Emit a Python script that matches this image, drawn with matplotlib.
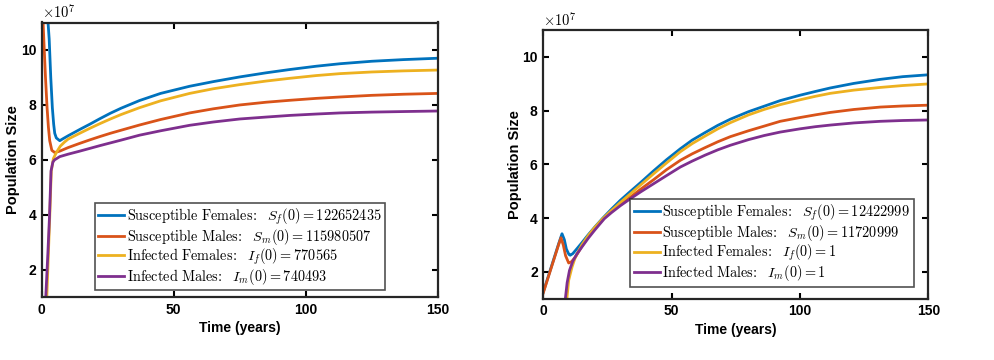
import numpy as np
import matplotlib
matplotlib.use("Agg")
import matplotlib.pyplot as plt

plt.rcParams['font.family'] = ['Liberation Sans', 'DejaVu Sans']
plt.rcParams['mathtext.fontset'] = 'cm'

# values, population in units of 1e7
# left panel: equilibrium initial conditions
t_sf_a = [0, 1, 2, 2.8, 3.4, 4.0, 4.5, 4.9, 5.5, 6.8, 8, 10, 12.5, 15, 18.2, 22, 26, 30, 37, 45,
          56, 65, 75, 85, 94, 104, 113, 125, 137, 150]
sf_a = [12.27, 12.1, 11.5, 10.4, 9.0, 7.9, 7.3, 6.97, 6.8, 6.70, 6.77, 6.88, 7.01, 7.14, 7.3, 7.5,
        7.7, 7.88, 8.16, 8.42, 8.68, 8.85, 9.02, 9.17, 9.29, 9.41, 9.5, 9.59, 9.65, 9.70]
t_sm_a = [0, 0.5, 0.8, 1.4, 2.0, 2.5, 3.0, 3.8, 4.9, 6.8, 10, 14, 18.2, 22, 26, 30, 37, 45, 56,
          65, 75, 85, 94, 104, 113, 125, 137, 150]
sm_a = [11.6, 11.0, 10.3, 9.0, 7.9, 7.2, 6.7, 6.35, 6.27, 6.32, 6.45, 6.59, 6.73, 6.85, 6.97, 7.08,
        7.27, 7.47, 7.71, 7.86, 8.0, 8.1, 8.17, 8.24, 8.29, 8.35, 8.39, 8.42]
t_if_a = [0, 1.9, 2.5, 3.0, 3.6, 4.4, 5.4, 7, 8.6, 10, 12.5, 15, 18.2, 22, 26, 30, 37, 45, 56,
          65, 75, 85, 94, 104, 113, 125, 137, 150]
if_a = [0.077, 1.0, 2.6, 3.9, 5.6, 6.05, 6.25, 6.5, 6.65, 6.76, 6.88, 7.0, 7.15, 7.32, 7.49, 7.65,
        7.9, 8.15, 8.42, 8.59, 8.74, 8.87, 8.97, 9.07, 9.14, 9.2, 9.24, 9.27]
t_im_a = [0, 1.5, 2.3, 2.9, 3.5, 4.2, 4.8, 6.8, 10, 14, 18.2, 22, 26, 30, 37, 45, 56, 65, 75,
          85, 94, 104, 113, 125, 137, 150]
im_a = [0.074, 1.0, 2.6, 3.9, 5.6, 5.92, 6.0, 6.12, 6.21, 6.31, 6.42, 6.52, 6.62, 6.72, 6.9,
        7.06, 7.26, 7.38, 7.49, 7.56, 7.62, 7.67, 7.71, 7.74, 7.76, 7.78]

# right panel: disease-free start with one infected of each sex
t_sf_b = [0, 2, 4, 6, 7.3, 8.2, 9, 10, 10.5, 11.5, 13, 15, 17.5, 20, 23, 26.5, 30, 33.9, 38, 43,
          48, 53.4, 58, 63, 68, 72.9, 80, 86, 92.3, 100, 106, 111.8, 121, 131.3, 140, 150]
sf_b = [1.25, 1.85, 2.45, 3.05, 3.42, 3.2, 2.85, 2.65, 2.62, 2.68, 2.85, 3.08, 3.38, 3.66, 3.98,
        4.33, 4.66, 4.99, 5.33, 5.76, 6.17, 6.58, 6.9, 7.18, 7.45, 7.68, 7.96, 8.16, 8.37, 8.57,
        8.71, 8.84, 9.01, 9.16, 9.26, 9.33]
t_sm_b = [0, 2, 4, 6, 6.9, 7.8, 8.7, 9.9, 11, 12.5, 15, 17.5, 20, 23.5, 26.5, 30, 33.9, 38, 43,
          48, 53.4, 58, 63, 68, 72.9, 80, 86, 92.3, 100, 106, 111.8, 121, 131.3, 140, 150]
sm_b = [1.22, 1.82, 2.42, 3.02, 3.27, 3.0, 2.6, 2.33, 2.38, 2.55, 2.95, 3.3, 3.6, 3.98, 4.25,
        4.5, 4.78, 5.08, 5.43, 5.8, 6.15, 6.39, 6.62, 6.84, 7.03, 7.25, 7.42, 7.6, 7.74, 7.84,
        7.93, 8.04, 8.13, 8.17, 8.2]
t_if_b = [9.2, 9.9, 11.2, 12.5, 15, 17.5, 20, 23.2, 26.5, 30, 33.9, 38, 43, 48, 53.4, 58, 63, 68,
          72.9, 80, 86, 92.3, 100, 106, 111.8, 121, 131.3, 140, 150]
if_b = [1.0, 1.69, 2.18, 2.55, 3.0, 3.35, 3.65, 3.98, 4.28, 4.58, 4.9, 5.24, 5.65, 6.05, 6.47,
        6.77, 7.05, 7.32, 7.55, 7.84, 8.04, 8.22, 8.4, 8.53, 8.64, 8.76, 8.86, 8.93, 8.99]
t_im_b = [8.6, 9.3, 10.2, 11.5, 13, 15, 17.5, 20, 23.8, 26.5, 30, 33.9, 38, 43, 48, 53.4, 58, 63,
          68, 72.9, 80, 86, 92.3, 100, 106, 111.8, 121, 131.3, 140, 150]
im_b = [1.0, 1.6, 2.05, 2.4, 2.65, 2.92, 3.25, 3.55, 3.98, 4.2, 4.46, 4.72, 4.98, 5.28, 5.58,
        5.9, 6.12, 6.34, 6.54, 6.71, 6.92, 7.07, 7.2, 7.32, 7.4, 7.46, 7.54, 7.6, 7.63, 7.65]

colors = ['#0072BD', '#D95319', '#EDB120', '#7E2F8E']
labels_a = [r'$\mathrm{Susceptible\ Females\!:}\ \ S_f(0) = 122652435$',
            r'$\mathrm{Susceptible\ Males\!:}\ \ S_m(0) = 115980507$',
            r'$\mathrm{Infected\ Females\!:}\ \ I_f(0) = 770565$',
            r'$\mathrm{Infected\ Males\!:}\ \ I_m(0) = 740493$']
labels_b = [r'$\mathrm{Susceptible\ Females\!:}\ \ S_f(0) = 12422999$',
            r'$\mathrm{Susceptible\ Males\!:}\ \ S_m(0) = 11720999$',
            r'$\mathrm{Infected\ Females\!:}\ \ I_f(0) = 1$',
            r'$\mathrm{Infected\ Males\!:}\ \ I_m(0) = 1$']

fig = plt.figure(figsize=(9.95, 3.6), dpi=100)
ax1 = fig.add_axes([0.042, 0.174, 0.398, 0.7635])
ax2 = fig.add_axes([0.546, 0.170, 0.387, 0.747])


def draw(ax, series, labels, legend_box):
    for (t, y), c, lab in zip(series, colors, labels):
        ax.plot(t, np.array(y), color=c, lw=2.0, label=lab, solid_joinstyle='round')
    ax.set_xlim(0, 150)
    ax.set_ylim(1, 11)
    ax.set_xticks([0, 50, 100, 150])
    ax.set_yticks([2, 4, 6, 8, 10])
    ax.tick_params(direction='in', top=True, right=True, length=4, width=1.5,
                   labelsize=10, pad=4)
    for lab in ax.get_xticklabels() + ax.get_yticklabels():
        lab.set_fontweight('bold')
    for s in ax.spines.values():
        s.set_linewidth(1.6)
        s.set_color('#262626')
    ax.set_xlabel('Time (years)', fontsize=10, fontweight='bold', labelpad=3)
    ax.set_ylabel('Population Size', fontsize=10.5, fontweight='bold', labelpad=0.5)
    ax.text(0.0, 1.005, r'$\times\mathsf{10}^{\mathsf{7}}$', transform=ax.transAxes,
            fontsize=10.5, ha='left', va='bottom')
    leg = ax.legend(loc='lower left', bbox_to_anchor=legend_box, fontsize=10.3,
                    frameon=True, fancybox=False, handlelength=1.8, handletextpad=0.2,
                    borderpad=0.25, labelspacing=0.0, borderaxespad=0)
    leg.get_frame().set_edgecolor('#262626')
    leg.get_frame().set_linewidth(1.2)


draw(ax1, [(t_sf_a, sf_a), (t_sm_a, sm_a), (t_if_a, if_a), (t_im_a, im_a)],
     labels_a, (0.134, 0.025))
draw(ax2, [(t_sf_b, sf_b), (t_sm_b, sm_b), (t_if_b, if_b), (t_im_b, im_b)],
     labels_b, (0.226, 0.045))

fig.savefig('out.png', dpi=100)
